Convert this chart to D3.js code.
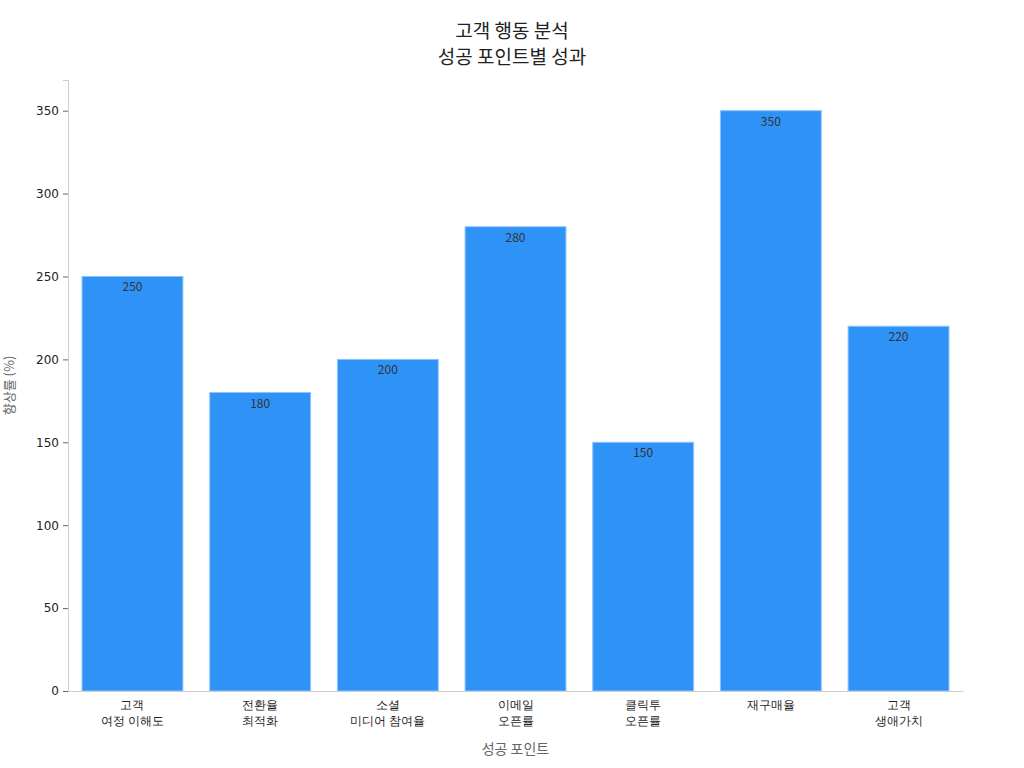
<!DOCTYPE html>
<html><head><meta charset="utf-8">
<script src="https://cdn.jsdelivr.net/npm/d3@7"></script>
<style>body{margin:0;background:#fff;font-family:"Noto Sans CJK KR","DejaVu Sans",sans-serif;}</style>
</head><body><div id="chart"></div>
<script>
// Chart data
const categories = ['고객\n여정 이해도', '전환율\n최적화', '소셜\n미디어 참여율', '이메일\n오픈률', '클릭투\n오픈률', '재구매율', '고객\n생애가치'];
const values = [250, 180, 200, 280, 150, 350, 220];
const yTicks = [0, 50, 100, 150, 200, 250, 300, 350];

const margin = {top: 80, right: 61, bottom: 77, left: 68};
const W = 1024, H = 768;
const width = W - margin.left - margin.right;
const height = H - margin.top - margin.bottom;

const root = d3.select('#chart').append('svg').attr('width', W).attr('height', H);
const svg = root.append('g').attr('transform', `translate(${margin.left},${margin.top})`);

// Title
root.append('text').attr('x', 512).attr('y', 38).attr('text-anchor', 'middle')
    .style('font-size', '19px').attr('fill', '#222').text('고객 행동 분석');
root.append('text').attr('x', 512).attr('y', 64).attr('text-anchor', 'middle')
    .style('font-size', '19px').attr('fill', '#222').text('성공 포인트별 성과');

const x = d3.scaleBand().domain(categories).range([0, width]).paddingInner(0.21).paddingOuter(0.11);
const y = d3.scaleLinear().domain([0, 368.5]).range([height, 0]);

// Bars
svg.selectAll('rect.bar').data(values).enter().append('rect')
    .attr('x', (d, i) => x(categories[i]))
    .attr('y', d => y(d))
    .attr('width', x.bandwidth())
    .attr('height', d => height - y(d))
    .attr('fill', '#2f92f7')
    .attr('stroke', '#8cc4fb')
    .attr('stroke-width', 1);

// Value labels
svg.selectAll('text.val').data(values).enter().append('text')
    .attr('x', (d, i) => x(categories[i]) + x.bandwidth() / 2)
    .attr('y', d => y(d) + 15)
    .attr('text-anchor', 'middle')
    .style('font-size', '12px').attr('fill', '#333')
    .text(d => d);

// Y axis
const yAxis = svg.append('g').call(d3.axisLeft(y).tickValues(yTicks).tickSize(5).tickPadding(4));
yAxis.select('.domain').attr('stroke', '#ccc');
yAxis.selectAll('.tick line').attr('stroke', '#666');
yAxis.selectAll('text').style('font-size', '12px').attr('fill', '#222').style('font-family', 'DejaVu Sans');

// X axis
const xAxis = svg.append('g').attr('transform', `translate(0,${height})`)
    .call(d3.axisBottom(x).tickSize(0).tickFormat(''));
xAxis.select('.domain').attr('stroke', '#ccc');
xAxis.selectAll('.tick').each(function(d) {
    const lines = d.split('\n');
    const t = d3.select(this).append('text').attr('fill', '#222').style('font-size', '12px').attr('text-anchor', 'middle');
    lines.forEach((l, i) => t.append('tspan').attr('x', 0).attr('y', 18 + i * 16).text(l));
});

// Axis labels
svg.append('text').attr('x', width / 2).attr('y', height + 63).attr('text-anchor', 'middle')
    .style('font-size', '14px').attr('fill', '#666').text('성공 포인트');
svg.append('text').attr('transform', 'rotate(-90)').attr('x', -height / 2).attr('y', -54)
    .attr('text-anchor', 'middle').style('font-size', '13px').attr('fill', '#666').text('향상률 (%)');
</script></body></html>
